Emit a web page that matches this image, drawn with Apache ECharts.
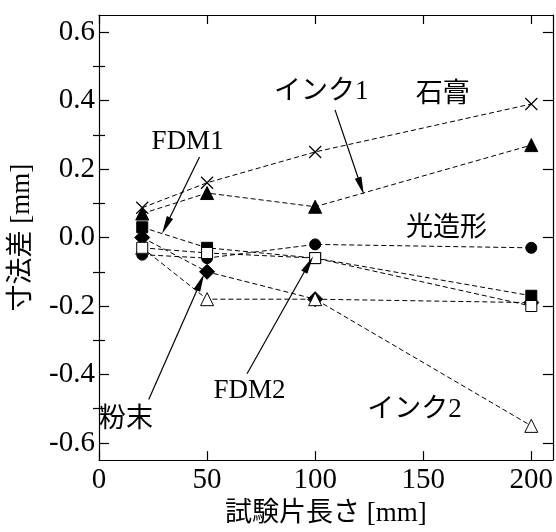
<!DOCTYPE html>
<html>
<head>
<meta charset="utf-8">
<script src="https://cdn.jsdelivr.net/npm/echarts@6/dist/echarts.min.js"></script>
<style>html,body{margin:0;padding:0;background:#fff}#c{width:556px;height:532px}</style>
</head>
<body>
<div id="c"></div>
<script>
// ---- data ----
const xVals = [20, 50, 100, 200];
const sekko    = [0.087, 0.16, 0.25, 0.39];   // 石膏 (×)
const ink1     = [0.07, 0.13, 0.09, 0.27];    // インク1 (▲)
const hikari   = [-0.05, -0.06, -0.02, -0.03];// 光造形 (●)
const fdm1     = [0.03, -0.03, -0.06, -0.17]; // FDM1 (■)
const funmatsu = [0.0, -0.1, -0.18, -0.19];   // 粉末 (◆)
const ink2     = [-0.03, -0.18, -0.18, -0.55];// インク2 (△)
const fdm2     = [-0.03, -0.045, -0.06, -0.2];// FDM2 (□)

const xTicks = [0, 50, 100, 150, 200];
const yTicks = [-0.6, -0.4, -0.2, 0, 0.2, 0.4, 0.6];
const yMinor = [-0.5, -0.3, -0.1, 0.1, 0.3, 0.5];

// annotation texts [text, x, y]
const notes = [
  ['石膏', 159, 0.416],
  ['インク1', 102.8, 0.425],
  ['FDM1', 41, 0.278],
  ['光造形', 160.8, 0.026],
  ['FDM2', 69.6, -0.448],
  ['粉末', 12.5, -0.534],
  ['インク2', 146, -0.502]
];
// arrows [x1, y1, x2, y2] (tail -> head)
const arrows = [
  [109.2, 0.373, 121.2, 0.15],
  [46.5, 0.235, 31, 0.035],
  [23, -0.473, 47.0, -0.13],
  [68.5, -0.398, 97.0, -0.078]
];

const SERIF = '"Liberation Serif", "Noto Sans CJK JP", serif';
const FS = 27;
const TFS = 29;
const crossPath = 'path://M0,0L10,10M10,0L0,10';

function mk(name, vals, symbol, size, filled) {
  return {
    name, type: 'line',
    data: xVals.map((x, i) => [x, vals[i]]),
    symbol, symbolSize: size,
    showSymbol: true,
    lineStyle: {color: '#000', width: 1, type: [5, 3]},
    itemStyle: {color: filled ? '#000' : '#fff', borderColor: '#000', borderWidth: 1},
    animation: false
  };
}

const series = [
  mk('石膏', sekko, crossPath, 12, false),
  mk('インク1', ink1, 'triangle', 13, true),
  mk('光造形', hikari, 'circle', 11, true),
  mk('FDM1', fdm1, 'rect', 11, true),
  mk('粉末', funmatsu, 'diamond', 15, true),
  mk('インク2', ink2, 'triangle', 13, false),
  mk('FDM2', fdm2, 'rect', 11, false)
];
series[0].itemStyle = {color: 'transparent', borderColor: '#000', borderWidth: 1.2};

series.push({
  type: 'scatter', data: [], silent: true, animation: false,
  markLine: {
    silent: true, animation: false,
    symbol: ['none', 'triangle'], symbolSize: [7, 18],
    lineStyle: {color: '#000', width: 1.2, type: 'solid'},
    itemStyle: {color: '#000'},
    label: {show: false},
    data: arrows.map(a => [{coord: [a[0], a[1]]}, {coord: [a[2], a[3]]}])
  },
  markPoint: {
    silent: true, animation: false,
    symbol: 'rect', symbolSize: 1,
    itemStyle: {color: 'transparent'},
    label: {show: true, position: 'inside', color: '#000', fontFamily: SERIF, fontSize: FS,
            formatter: p => p.name},
    data: notes.map(n => ({name: n[0], coord: [n[1], n[2]]}))
  }
});

const axisLine = {show: true, onZero: false, lineStyle: {color: '#000', width: 1.2}};
const tickStyle = {color: '#000', width: 1.2};
const chart = echarts.init(document.getElementById('c'), null, {renderer: 'canvas'});
chart.setOption({
  backgroundColor: '#fff',
  animation: false,
  grid: {left: 98, right: 3, top: 15, bottom: 62},
  xAxis: [
    {type: 'value', min: 0, max: 210, position: 'bottom',
     axisLine, splitLine: {show: false},
     axisTick: {inside: true, length: 9, customValues: xTicks, lineStyle: tickStyle},
     axisLabel: {customValues: xTicks, color: '#000', fontFamily: SERIF, fontSize: TFS, margin: 6},
     name: '試験片長さ [mm]', nameLocation: 'middle', nameGap: 36,
     nameTextStyle: {color: '#000', fontFamily: SERIF, fontSize: FS}},
    {type: 'value', min: 0, max: 210, position: 'top',
     axisLine, splitLine: {show: false},
     axisTick: {inside: true, length: 9, customValues: xTicks, lineStyle: tickStyle},
     axisLabel: {show: false}}
  ],
  yAxis: [
    {type: 'value', min: -0.65, max: 0.65, position: 'left',
     axisLine, splitLine: {show: false},
     axisTick: {inside: true, length: 10, customValues: yTicks, lineStyle: tickStyle},
     axisLabel: {customValues: yTicks, color: '#000', fontFamily: SERIF, fontSize: TFS, margin: 4,
                 formatter: v => v.toFixed(1)},
     name: '寸法差 [mm]', nameLocation: 'middle', nameGap: 64, nameRotate: 90,
     nameTextStyle: {color: '#000', fontFamily: SERIF, fontSize: FS}},
    {type: 'value', min: -0.65, max: 0.65, position: 'right',
     axisLine, splitLine: {show: false},
     axisTick: {inside: true, length: 10, customValues: yTicks, lineStyle: tickStyle},
     axisLabel: {show: false}},
    {type: 'value', min: -0.65, max: 0.65, position: 'left',
     axisLine: {show: false}, splitLine: {show: false},
     axisTick: {inside: true, length: 6, customValues: yMinor, lineStyle: tickStyle},
     axisLabel: {show: false}},
    {type: 'value', min: -0.65, max: 0.65, position: 'right',
     axisLine: {show: false}, splitLine: {show: false},
     axisTick: {inside: true, length: 6, customValues: yMinor, lineStyle: tickStyle},
     axisLabel: {show: false}}
  ],
  series
});
</script>
</body>
</html>
